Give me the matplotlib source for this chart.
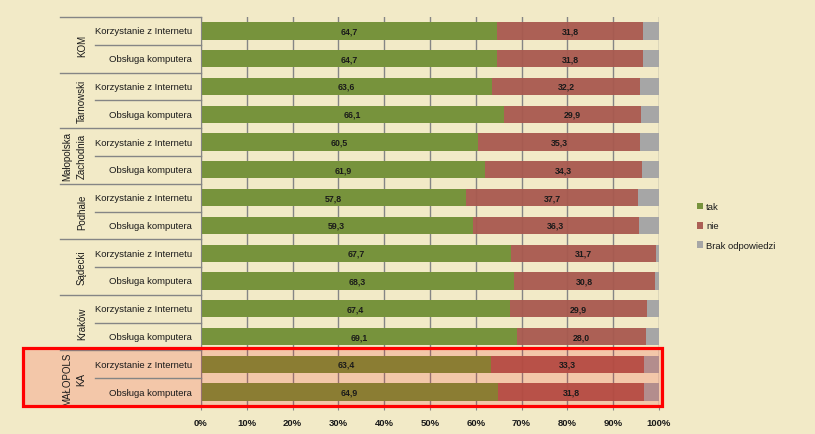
import matplotlib
matplotlib.use("Agg")
import matplotlib.pyplot as plt
from matplotlib.transforms import blended_transform_factory
from matplotlib.patches import Rectangle
import numpy as np

plt.rcParams['font.family'] = ['Liberation Sans', 'DejaVu Sans']

groups = ["KOM", "Tarnowski", "Małopolska\nZachodnia", "Podhale", "Sądecki", "Kraków", "MAŁOPOLS\nKA"]
subcats = ["Korzystanie z Internetu", "Obsługa komputera"]
tak = [64.7, 64.7, 63.6, 66.1, 60.5, 61.9, 57.8, 59.3, 67.7, 68.3, 67.4, 69.1, 63.4, 64.9]
nie = [31.8, 31.8, 32.2, 29.9, 35.3, 34.3, 37.7, 36.3, 31.7, 30.8, 29.9, 28.0, 33.3, 31.8]
brak = [3.5, 3.5, 4.2, 4.0, 4.2, 3.8, 4.5, 4.4, 0.6, 0.9, 2.7, 2.9, 3.3, 3.3]
series_names = ["tak", "nie", "Brak odpowiedzi"]
xticks = [0, 10, 20, 30, 40, 50, 60, 70, 80, 90, 100]

bg = "#F2EAC7"
c_tak = "#77933C"
c_nie = "#A8594F"
c_brak = "#A6A6A6"

fig = plt.figure(figsize=(8.15, 4.35), dpi=100, facecolor=bg)
W, H = 815, 435
ax = fig.add_axes([201 / W, 1 - 407 / H, 458 / W, 389 / H])
ax.set_facecolor(bg)

n = len(tak)
y = np.arange(n)
tak_a = np.array(tak); nie_a = np.array(nie); brak_a = np.array(brak)
bh = 0.62
ax.barh(y, tak_a, height=bh, color=c_tak, zorder=2, label=series_names[0])
ax.barh(y, nie_a, left=tak_a, height=bh, color=c_nie, alpha=0.95, zorder=3, label=series_names[1])
ax.barh(y, brak_a, left=tak_a + nie_a, height=bh, color=c_brak, zorder=2, label=series_names[2])

for i in range(n):
    ax.text(tak_a[i] / 2, y[i], f"{tak[i]:.1f}".replace(".", ","), ha="center", va="center",
            fontsize=6.3, fontweight="bold", color="#1a1a1a", zorder=6)
    ax.text(tak_a[i] + nie_a[i] / 2, y[i], f"{nie[i]:.1f}".replace(".", ","), ha="center", va="center",
            fontsize=6.3, fontweight="bold", color="#1a1a1a", zorder=6)

ax.set_xlim(0, 100)
ax.set_ylim(n - 0.5, -0.5)
ax.set_xticks(xticks)
ax.set_xticklabels([f"{t}%" for t in xticks], fontsize=6.8, fontweight="bold", color="#1a1a1a")
ax.set_yticks([])
ax.grid(axis="x", color="#858585", linewidth=1.0, zorder=1)
ax.set_axisbelow(True)
for s in ["top", "right"]:
    ax.spines[s].set_visible(False)
ax.spines["left"].set_color("#858585")
ax.spines["bottom"].set_color("#858585")
ax.tick_params(axis="x", length=3, color="#858585", pad=6)

tr = blended_transform_factory(ax.transAxes, ax.transData)
x_left = (60 - 201) / 458
x_sub = (95 - 201) / 458
x_lab = (192 - 201) / 458

for g in range(len(groups) + 1):
    yb = g * 2 - 0.5
    ax.plot([x_left, 0], [yb, yb], color="#858585", lw=1.0, transform=tr, clip_on=False, zorder=5)
for g in range(len(groups)):
    ym = g * 2 + 0.5
    ax.plot([x_sub, 0], [ym, ym], color="#858585", lw=1.0, transform=tr, clip_on=False, zorder=5)
    nl = groups[g].count("\n")
    xg = (82 - 7.5 * nl - 201) / 458
    ax.text(xg, g * 2 + 0.5, groups[g], rotation=90, ha="center", va="center",
            multialignment="center", fontsize=7.0, color="#1a1a1a", transform=tr, linespacing=1.45, zorder=6)
    for k in range(2):
        ax.text(x_lab, g * 2 + k, subcats[k], ha="right", va="center", fontsize=6.8,
                color="#1a1a1a", transform=tr, zorder=6)

# highlight box
rx0 = (23 - 201) / 458
rx1 = (662 - 201) / 458
ry0 = 11.4
ry1 = 13.5
ax.add_patch(Rectangle((rx0, ry0), rx1 - rx0, ry1 - ry0, transform=tr, facecolor=(1, 0, 0, 0.15),
                       edgecolor="none", clip_on=False, zorder=4))
ax.add_patch(Rectangle((rx0, ry0), rx1 - rx0, ry1 - ry0, transform=tr, facecolor="none",
                       edgecolor="#FF0000", linewidth=2.3, clip_on=False, zorder=7))

leg = ax.legend(loc="center left", bbox_to_anchor=((693 - 201) / 458, 1 - (227 - 18) / 389), frameon=False,
                fontsize=6.8, handlelength=0.7, handleheight=0.7, handletextpad=0.3, labelspacing=1.1,
                borderaxespad=0)
for t in leg.get_texts():
    t.set_color("#1a1a1a")

fig.savefig("out.png", dpi=100, facecolor=bg)
